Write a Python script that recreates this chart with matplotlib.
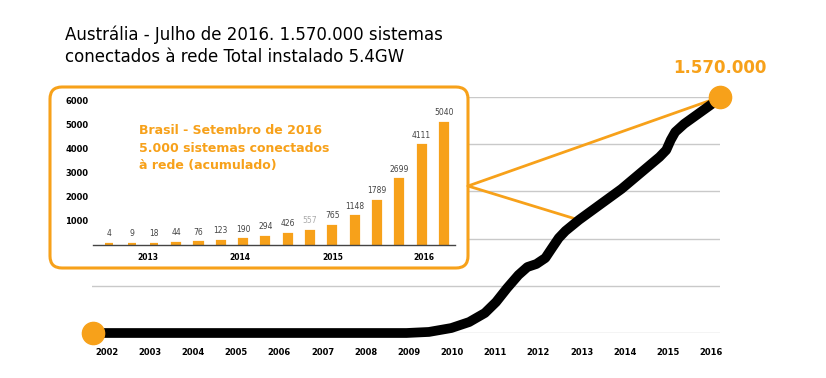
import numpy as np
import matplotlib.pyplot as plt
from matplotlib.patches import FancyBboxPatch, ConnectionPatch
from matplotlib.transforms import blended_transform_factory

ORANGE = '#f7a11a'

# Australia - cumulative grid connected systems
aus_years = [2002, 2009, 2009.5, 2010, 2010.4, 2010.75, 2011, 2011.25, 2011.5, 2011.7,
             2011.9, 2012.1, 2012.25, 2012.4, 2012.55, 2012.85, 2013.8, 2014.65, 2014.8,
             2014.9, 2015.0, 2015.2, 2015.85, 2016]
aus_systems = [0, 0, 7, 33, 73, 133, 206, 300, 386, 439, 459, 499, 566, 632, 679, 752,
               958, 1171, 1217, 1284, 1337, 1391, 1530, 1570]  # thousands
year_labels = [str(y) for y in range(2002, 2017)]

# Brazil - cumulative systems (inset)
br_values = [4, 9, 18, 44, 76, 123, 190, 294, 426, 557, 765, 1148, 1789, 2699, 4111, 5040]
br_year_labels = ['2013', '2014', '2015', '2016']
br_yticks = [1000, 2000, 3000, 4000, 5000, 6000]

plt.rcParams['font.family'] = 'DejaVu Sans'
W, H = 826, 378
fig = plt.figure(figsize=(W / 100, H / 100), dpi=100)

# ---- main chart
ax = fig.add_axes([92 / W, (H - 333) / H, (720 - 92) / W, (333 - 97) / H])
ax.set_xlim(2001.978, 2016.0)
ax.set_ylim(0, 1570)
ax.set_yticks(np.linspace(0, 1570, 6))
ax.yaxis.grid(True, color='#c9c9c9', lw=1)
ax.set_axisbelow(True)
for s in ax.spines.values():
    s.set_visible(False)
ax.set_yticklabels([])
ax.tick_params(length=0)
ax.set_xticks(np.linspace(2002.31, 2015.80, 15))
ax.set_xticklabels(year_labels, fontsize=6, fontweight='bold')
ax.tick_params(axis='x', pad=11)

ax.plot(aus_years, aus_systems, color='black', lw=7, solid_joinstyle='round',
        solid_capstyle='round', zorder=4, clip_on=False)
ax.plot([aus_years[0], aus_years[-1]], [aus_systems[0], aus_systems[-1]], 'o',
        color=ORANGE, ms=16, zorder=6, clip_on=False)
ax.text(aus_years[-1], aus_systems[-1] + 190, '1.570.000', color=ORANGE, fontsize=12,
        fontweight='bold', ha='center', va='center')

# inset box
box = FancyBboxPatch((0.50, 1.10), 4.18, 1.81, boxstyle='round,pad=0,rounding_size=0.12',
                     transform=fig.dpi_scale_trans, facecolor='white', edgecolor=ORANGE,
                     lw=2.2, zorder=3, clip_on=False)
ax.add_patch(box)

for i in [-1, 15]:
    con = ConnectionPatch(xyA=(4.68, 1.92), coordsA=fig.dpi_scale_trans,
                          xyB=(aus_years[i], aus_systems[i]), coordsB=ax.transData,
                          color=ORANGE, lw=2, zorder=3.5)
    ax.add_artist(con)

# ---- inset bar chart
ax2 = fig.add_axes([93 / W, (H - 245) / H, (455 - 93) / W, (245 - 101) / H])
ax2.patch.set_visible(False)
x = np.arange(len(br_values))
ax2.bar(x, br_values, width=0.36, bottom=40, color=ORANGE, edgecolor=ORANGE, lw=1.6)
ax2.set_xlim(-0.73, 15.5)
ax2.set_ylim(0, 6000)
for k, s in ax2.spines.items():
    s.set_visible(k == 'bottom')
ax2.spines['bottom'].set_color('#444444')
ax2.spines['bottom'].set_linewidth(1)
ax2.set_xticks([])
ax2.set_yticks([])
for i, v in enumerate(br_values):
    ax2.annotate(str(v), (i, v), xytext=(0, 8), textcoords='offset points', ha='center',
                 va='center', fontsize=5.5, color='#aaaaaa' if v == 557 else '#444444')
ty = blended_transform_factory(ax2.transAxes, ax2.transData)
for v in br_yticks:
    ax2.text(-0.077, v, str(v), transform=ty, fontsize=6, fontweight='bold', ha='left',
             va='center')
tx = blended_transform_factory(ax2.transData, ax2.transAxes)
for pos, lab in zip([1.75, 5.875, 10, 14.1], br_year_labels):
    ax2.text(pos, -0.085, lab, transform=tx, fontsize=5.5, fontweight='bold', ha='center',
             va='center')

fig.text(139 / W, 1 - 148 / H, 'Brasil - Setembro de 2016\n5.000 sistemas conectados\nà rede (acumulado)',
         color=ORANGE, fontsize=9, fontweight='bold', ha='left', va='center',
         linespacing=1.5)

# title
fig.text(65 / W, 1 - 35 / H, 'Austrália - Julho de 2016. 1.570.000 sistemas', fontsize=12,
         ha='left', va='center')
fig.text(65 / W, 1 - 57 / H, 'conectados à rede Total instalado 5.4GW', fontsize=12,
         ha='left', va='center')

fig.savefig('out.png', dpi=100)
